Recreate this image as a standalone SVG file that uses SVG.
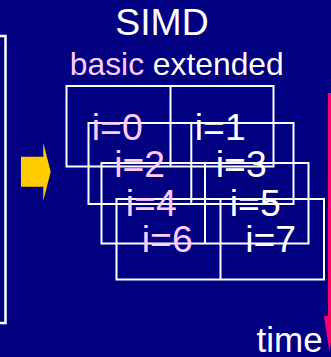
<svg xmlns="http://www.w3.org/2000/svg" width="331" height="357" viewBox="0 0 331 357">
<style>
text{font-family:"Liberation Sans",Arial,sans-serif}
.box{fill:none;stroke:#fff;stroke-width:2}
.big{font-size:37.33px}
.pk{fill:#FFCCFF}
.wh{fill:#fff}
</style>
<rect width="331" height="357" fill="#000080"/>
<g id="left-panel"><rect x="-10" y="36" width="15.5" height="287" fill="none" stroke="#fff" stroke-width="2.5"/></g>
<g id="title"><text x="115.3" y="35" class="big wh">SIMD</text></g>
<g id="legend"><text x="69.8" y="75" font-size="31.8"><tspan class="pk">basic</tspan><tspan class="wh"> extended</tspan></text></g>
<g id="step1"><rect class="box" x="66.5" y="86" width="207" height="80.5"/><line class="box" x1="170.5" y1="86" x2="170.5" y2="166.5"/></g>
<g id="step2"><rect class="box" x="88.5" y="123" width="205" height="81"/><line class="box" x1="191.3" y1="123" x2="191.3" y2="204" stroke-width="3"/></g>
<g id="step3"><rect class="box" x="101.5" y="163" width="207" height="80.5"/><line class="box" x1="205" y1="163" x2="205" y2="243.5"/></g>
<g id="step4"><rect class="box" x="116.5" y="199" width="207.5" height="80.5"/><line class="box" x1="220.5" y1="199" x2="220.5" y2="279.5"/></g>
<g id="labels">
<text x="91.8" y="140" class="big pk">i=0</text>
<text x="194.8" y="140" class="big wh">i=1</text>
<text x="114.2" y="177" class="big pk">i=2</text>
<text x="215.8" y="177" class="big wh">i=3</text>
<text x="125.8" y="216" class="big pk">i=4</text>
<text x="229.8" y="216" class="big wh">i=5</text>
<text x="141.8" y="252.3" class="big pk">i=6</text>
<text x="245.2" y="252.3" class="big wh">i=7</text>
</g>
<g id="time-label"><text x="256.5" y="351.5" font-size="35" class="wh">time</text></g>
<g id="connectors">
<polygon points="21,156.7 43.3,156.7 43.3,142.7 50.7,171.7 43.3,201 43.3,186.7 21,186.7" fill="#FFCC00"/>
<line x1="329.5" y1="93" x2="329.5" y2="318" stroke="#FF0066" stroke-width="3"/>
<polygon points="324,316 335,316 329.5,352" fill="#FF0066"/>
</g>
</svg>
